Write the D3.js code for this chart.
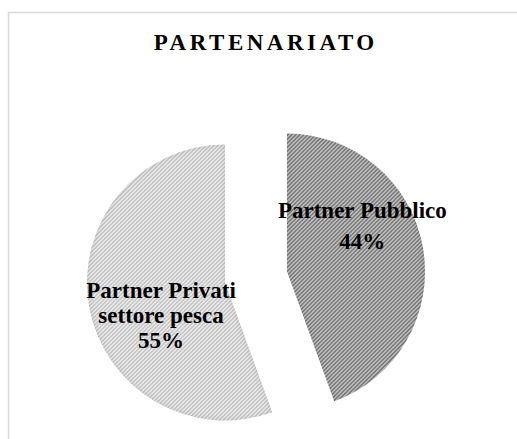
<!DOCTYPE html>
<html>
<head>
<meta charset="utf-8">
<script src="https://cdn.jsdelivr.net/npm/d3@7"></script>
<style>
  html, body { margin: 0; padding: 0; background: #fff; }
  svg { display: block; }
  text { font-family: "Liberation Serif", "Times New Roman", serif; font-weight: bold; fill: #000; }
</style>
</head>
<body>
<svg id="chart" width="517" height="439"></svg>
<script>
// Partnership breakdown
const title = "PARTENARIATO";
const categoryLines = [
  ["Partner Pubblico"],
  ["Partner Privati", "settore pesca"]
];
const values = [44, 55];

const W = 517, H = 439;
const svg = d3.select("#chart");

// chart frame (extends past the right and bottom edges)
svg.append("rect")
  .attr("x", 8.5).attr("y", 12.5)
  .attr("width", 700).attr("height", 700)
  .attr("fill", "#fff")
  .attr("stroke", "#d9d9d9")
  .attr("stroke-width", 1.5);

const defs = svg.append("defs");

function hatch(id, bg, fg, sw) {
  const p = defs.append("pattern")
    .attr("id", id)
    .attr("patternUnits", "userSpaceOnUse")
    .attr("width", 4).attr("height", 4);
  p.append("rect").attr("width", 4).attr("height", 4).attr("fill", bg);
  p.append("path")
    .attr("d", "M-1,1 l2,-2 M0,4 l4,-4 M3,5 l2,-2")
    .attr("stroke", fg)
    .attr("stroke-width", sw);
}
hatch("hatch-dark", "#d2d2d2", "#626262", 1.3);
hatch("hatch-light", "#f3f3f3", "#b9b9b9", 1.3);

// soft inner rim shading
const f = defs.append("filter").attr("id", "rim")
  .attr("x", "-10%").attr("y", "-10%").attr("width", "120%").attr("height", "120%");
f.append("feComponentTransfer").attr("in", "SourceAlpha").attr("result", "inv")
  .append("feFuncA").attr("type", "table").attr("tableValues", "1 0");
f.append("feGaussianBlur").attr("in", "inv").attr("stdDeviation", 3).attr("result", "blur");
f.append("feComposite").attr("in", "blur").attr("in2", "SourceAlpha").attr("operator", "in").attr("result", "edge");
f.append("feFlood").attr("flood-color", "#000").attr("flood-opacity", 0.25).attr("result", "col");
f.append("feComposite").attr("in", "col").attr("in2", "edge").attr("operator", "in").attr("result", "shadow");
const m = f.append("feMerge");
m.append("feMergeNode").attr("in", "SourceGraphic");
m.append("feMergeNode").attr("in", "shadow");

// title
svg.append("text")
  .attr("x", 264 + 1.75).attr("y", 50)
  .attr("text-anchor", "middle")
  .style("font-size", "23px")
  .style("letter-spacing", "3.5px")
  .text(title);

// pie
const cx = 256, cy = 277, R = 138, explode = 31.5;
const fills = ["url(#hatch-dark)", "url(#hatch-light)"];
// label anchor: fraction along the slice angle, fraction of radius, line spacing
const labelPos = [ { f: 0.366, k: 0.64, lh: 31 }, { f: 0.415, k: 0.52, lh: 25 } ];

const pie = d3.pie().sort(null).value(d => d).startAngle(0).endAngle(2 * Math.PI);
const arc = d3.arc().innerRadius(0).outerRadius(R);
const arcs = pie(values);

const g = svg.append("g").attr("transform", `translate(${cx},${cy})`);

const slices = g.selectAll("g.slice").data(arcs).join("g")
  .attr("class", "slice")
  .attr("transform", d => {
    const mid = (d.startAngle + d.endAngle) / 2;
    return `translate(${explode * Math.sin(mid)},${-explode * Math.cos(mid)})`;
  });

slices.append("path")
  .attr("d", arc)
  .attr("fill", (d, i) => fills[i])
  .attr("filter", "url(#rim)");

// data labels
slices.each(function(d, i) {
  const lp = labelPos[i];
  const a = d.startAngle + lp.f * (d.endAngle - d.startAngle);
  const x = lp.k * R * Math.sin(a), y = -lp.k * R * Math.cos(a);
  const lines = categoryLines[i].concat([values[i] + "%"]);
  const t = d3.select(this).append("text")
    .attr("text-anchor", "middle")
    .style("font-size", "23px");
  const y0 = y - (lines.length - 1) * lp.lh / 2 + 8;
  lines.forEach((s, j) => {
    t.append("tspan").attr("x", x).attr("y", y0 + j * lp.lh).text(s);
  });
});
</script>
</body>
</html>
